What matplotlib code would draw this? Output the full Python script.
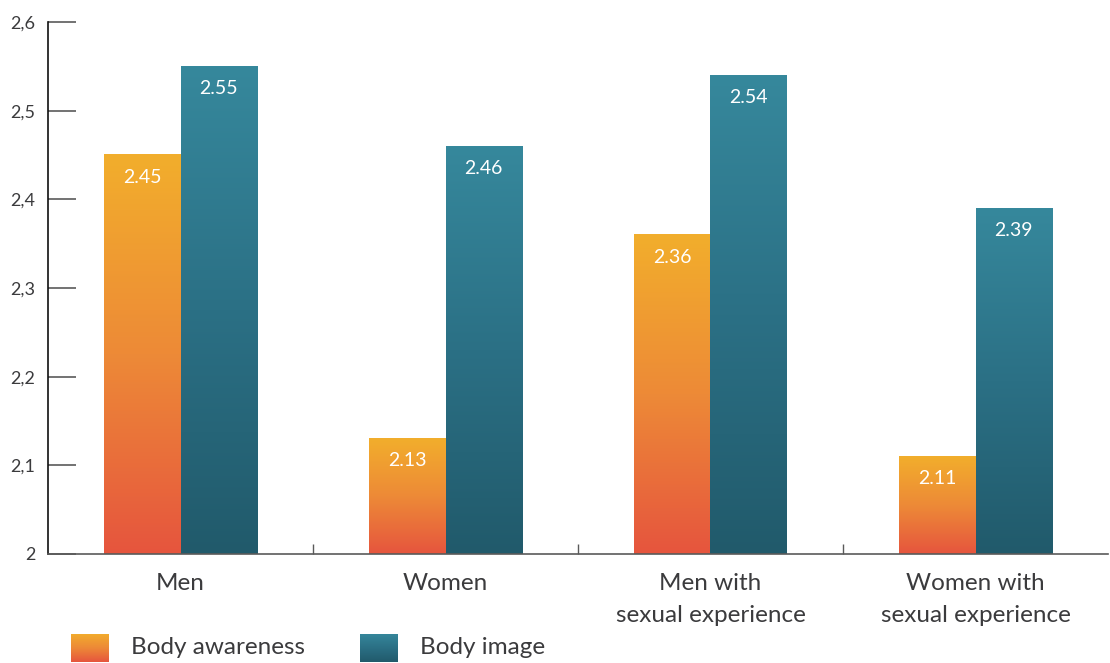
"""Grouped bar chart: body awareness vs body image by group."""

import matplotlib

matplotlib.use("Agg")
import matplotlib.pyplot as plt
import numpy as np
from matplotlib.colors import LinearSegmentedColormap
from matplotlib.ticker import FixedLocator

categories = ["Men", "Women", "Men with\nsexual experience", "Women with\nsexual experience"]
body_awareness = [2.45, 2.13, 2.36, 2.11]
body_image = [2.55, 2.46, 2.54, 2.39]
series_names = ["Body awareness", "Body image"]
y_ticks = [2.0, 2.1, 2.2, 2.3, 2.4, 2.5, 2.6]
y_tick_labels = ["2", "2,1", "2,2", "2,3", "2,4", "2,5", "2,6"]

TEXT = "#3b3b3d"
orange_cmap = LinearSegmentedColormap.from_list("orange", ["#e6553e", "#ed8a37", "#f2ae2c"])
teal_cmap = LinearSegmentedColormap.from_list("teal", ["#215a6b", "#2b7085", "#36889c"])

plt.rcParams["font.family"] = ["Lato", "DejaVu Sans"]

fig = plt.figure(figsize=(11.1, 6.63), dpi=100)
ax = fig.add_axes([48 / 1110, 109 / 663, 1060 / 1110, 532 / 663])

y_min = y_ticks[0]
x = np.arange(len(categories))
width = 0.289
grad = np.linspace(0, 1, 256).reshape(-1, 1)


def gradient_bars(xpos, values, cmap):
    bars = ax.bar(xpos, np.array(values) - y_min, width, bottom=y_min,
                  facecolor="none", edgecolor="none")
    for b, v in zip(bars, values):
        x0 = b.get_x()
        ax.imshow(grad, cmap=cmap, origin="lower", aspect="auto",
                  extent=[x0, x0 + b.get_width(), y_min, v], zorder=2)
        ax.annotate(f"{v:.2f}", (x0 + b.get_width() / 2, v), xytext=(0, -16),
                    textcoords="offset points", ha="center", va="center",
                    color="white", fontsize=14, zorder=3)
    return bars


gradient_bars(x - width / 2, body_awareness, orange_cmap)
gradient_bars(x + width / 2, body_image, teal_cmap)

ax.set_xlim(-0.5, len(categories) - 0.5)
ax.set_ylim(y_ticks[0], y_ticks[-1])

# y axis
ax.set_yticks(y_ticks)
ax.set_yticklabels(y_tick_labels, fontsize=13, color=TEXT)
ax.tick_params(axis="y", direction="in", length=20, width=1.2, color="#5a5a5a", pad=9)

# x axis: labels at centres, ticks between groups
ax.set_xticks(x)
ax.set_xticklabels(categories, fontsize=17.5, color=TEXT, linespacing=1.6)
ax.tick_params(axis="x", which="major", length=0, pad=14)
ax.xaxis.set_minor_locator(FixedLocator(x[:-1] + 0.5))
ax.tick_params(axis="x", which="minor", direction="in", length=7, width=1, color="#5a5a5a")

for side in ["top", "right"]:
    ax.spines[side].set_visible(False)
ax.spines["left"].set_color("#111111")
ax.spines["left"].set_linewidth(1.2)
ax.spines["bottom"].set_color("#5a5a5a")
ax.spines["bottom"].set_linewidth(1.2)
ax.spines["bottom"].set_zorder(4)

# legend with gradient swatches
for i, (name, cmap) in enumerate(zip(series_names, [orange_cmap, teal_cmap])):
    left = 71 + i * 289
    sw = fig.add_axes([left / 1110, 1 / 663, 38 / 1110, 28 / 663])
    sw.imshow(grad, cmap=cmap, origin="lower", aspect="auto")
    sw.axis("off")
    fig.text((left + 60) / 1110, 15 / 663, name, fontsize=17.5, color=TEXT,
             ha="left", va="center")

fig.savefig("out.png", dpi=100)
